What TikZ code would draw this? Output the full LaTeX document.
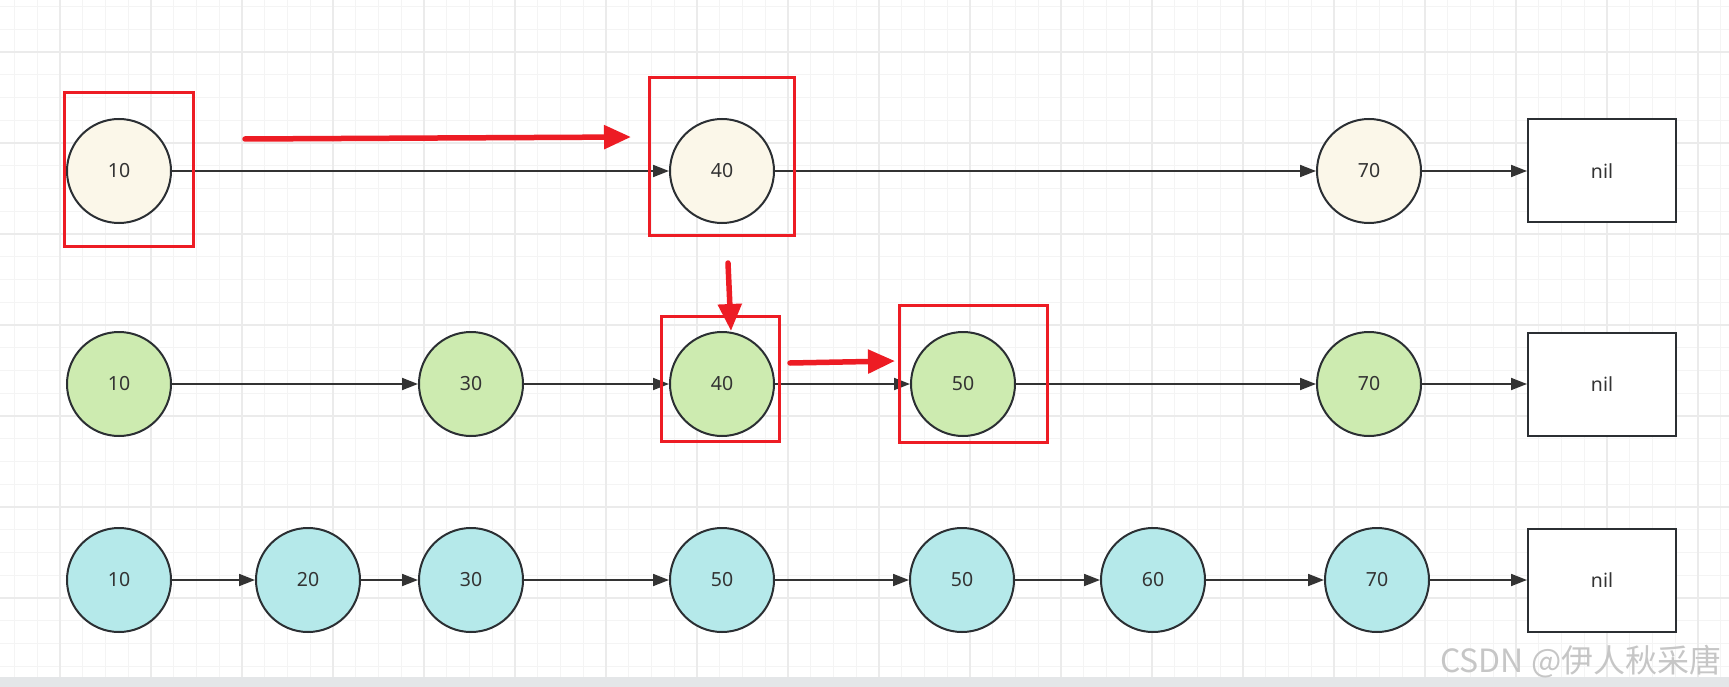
\documentclass[tikz,border=0pt]{standalone}
\usepackage{fontspec}
\setmainfont{Noto Sans}
\newfontfamily\cjkfont{Noto Sans CJK SC}
\usetikzlibrary{arrows.meta}
\definecolor{nodeline}{HTML}{2B2F33}
\definecolor{linkgray}{HTML}{333333}
\definecolor{hlred}{HTML}{ED1C24}
\definecolor{cream}{HTML}{FBF7E9}
\definecolor{leaf}{HTML}{CDEBB0}
\definecolor{aqua}{HTML}{B5E9EA}
\definecolor{gridminor}{HTML}{F4F4F4}
\definecolor{gridmajor}{HTML}{EBEBEB}
\definecolor{barbg}{HTML}{E4E6E8}

\begin{document}
\begin{tikzpicture}[x=1pt,y=-1pt,
  nd/.style={circle,draw=nodeline,line width=2pt,fill=#1,minimum size=104pt,inner sep=0pt,
    text=linkgray,font=\fontsize{19.5}{22}\selectfont},
  nilbox/.style={rectangle,draw=nodeline,line width=2pt,fill=white,minimum width=148pt,
    minimum height=103pt,text=linkgray,font=\fontsize{19.5}{22}\selectfont},
  lnk/.style={-{Triangle[length=16pt,width=12pt]},draw=linkgray,line width=1.8pt},
  hlbox/.style n args={2}{draw=hlred,line width=3pt,minimum width=#1pt,minimum height=#2pt,inner sep=0pt},
  hlarrow/.style={-{Triangle[length=27pt,width=23pt]},draw=hlred,line width=5.5pt,line cap=round}]
\useasboundingbox (0,0) rectangle (1729,687);
\fill[white] (0,0) rectangle (1729,687);
% grid
\foreach \i in {0,...,75} {
  \draw[gridminor,line width=1pt] ({14.5+22.75*\i},0) -- ({14.5+22.75*\i},677);
}
\foreach \i in {0,...,29} {
  \draw[gridminor,line width=1pt] (0,{6.5+22.75*\i}) -- (1729,{6.5+22.75*\i});
}
\foreach \i in {0,...,18} {
  \draw[gridmajor,line width=1.5pt] ({60+91*\i},0) -- ({60+91*\i},677);
}
\foreach \i in {0,...,6} {
  \draw[gridmajor,line width=1.5pt] (0,{52+91*\i}) -- (1729,{52+91*\i});
}
\fill[barbg] (0,677) rectangle (1729,687);

% level 2
\foreach \x/\1/\n in {119/10/a,722/40/b,1369/70/c} {
  \node[nd=cream] (t\n) at (\x,171) {\1};
}
\node[nilbox] (tnil) at (1602,171) {nil};
\foreach \a/\b in {a/b,b/c,c/nil} {
  \draw[lnk] (t\a) -- (t\b);
}

% level 1
\foreach \x/\1/\n in {119/10/a,471/30/b,722/40/c,963/50/d,1369/70/e} {
  \node[nd=leaf] (m\n) at (\x,384) {\1};
}
\node[nilbox] (mnil) at (1602,384) {nil};
\foreach \a/\b in {a/b,b/c,c/d,d/e,e/nil} {
  \draw[lnk] (m\a) -- (m\b);
}

% level 0
\foreach \x/\1/\n in {119/10/a,308/20/b,471/30/c,722/50/d,962/50/e,1153/60/f,1377/70/g} {
  \node[nd=aqua] (b\n) at (\x,580) {\1};
}
\node[nilbox] (bnil) at (1602,580) {nil};
\foreach \a/\b in {a/b,b/c,c/d,d/e,e/f,f/g,g/nil} {
  \draw[lnk] (b\a) -- (b\b);
}

% search path
\node[hlbox={129}{153}] (h1) at (128.5,169.5) {};
\node[hlbox={145}{157}] (h2) at (721.5,156.5) {};
\node[hlbox={118}{125}] (h3) at (720,378.5) {};
\node[hlbox={148}{137}] (h4) at (973,373.5) {};
\coordinate (p1) at (245,139);
\coordinate (q1) at (631,137);
\coordinate (p2) at (728,263);
\coordinate (q2) at (731,331);
\coordinate (p3) at (790,363);
\coordinate (q3) at (895,361);
\draw[hlarrow] (p1) -- (q1);
\draw[hlarrow] (p2) -- (q2);
\draw[hlarrow] (p3) -- (q3);

\node[anchor=base east,text=gray!45,font=\cjkfont\fontsize{32}{34}\selectfont] (wm) at (1725,672) {CSDN @伊人秋采唐};
\end{tikzpicture}
\end{document}
